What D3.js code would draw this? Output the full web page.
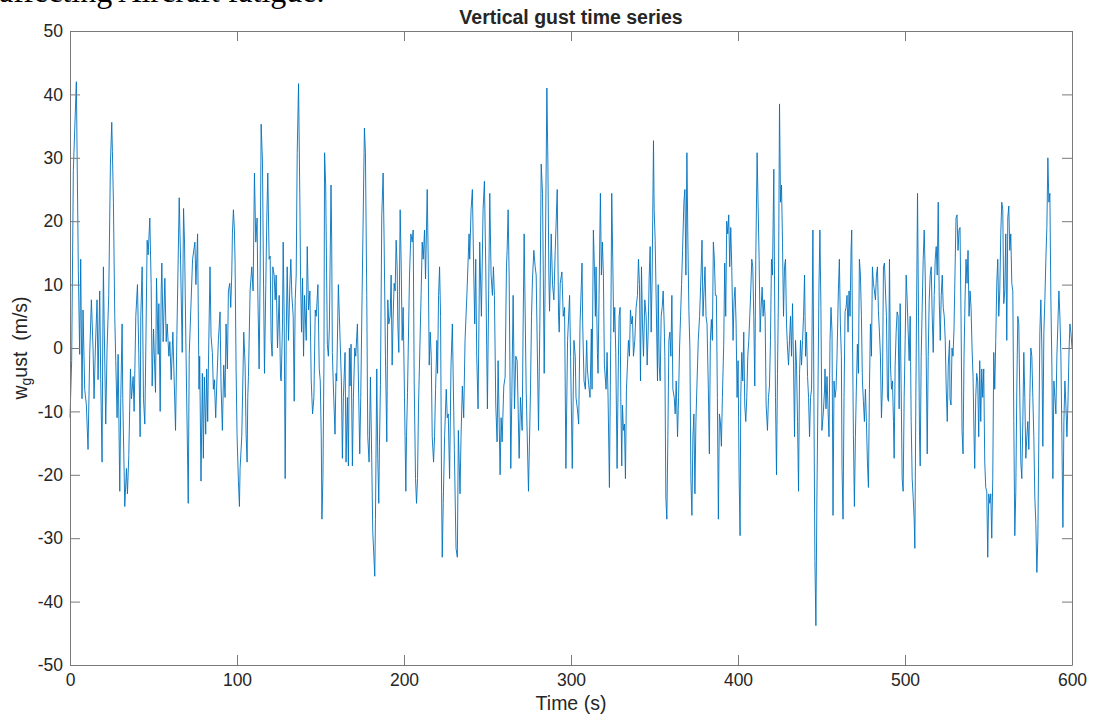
<!DOCTYPE html>
<html>
<head>
<meta charset="utf-8">
<script src="https://cdn.jsdelivr.net/npm/d3@7.8.5/dist/d3.min.js"></script>
<style>
  html, body { margin: 0; padding: 0; background: #fff; overflow: hidden; }
  svg { display: block; }
</style>
</head>
<body>
<div id="chart"></div>
<script>
// tick values
const xTicks = [0, 100, 200, 300, 400, 500, 600];
const yTicks = [-50, -40, -30, -20, -10, 0, 10, 20, 30, 40, 50];

// vertical gust samples: [time (s), w_gust (m/s)]
const gustSamples = [
  [0,-11],[1,-2],[2,28],[3.8,42],[5,12],[5.8,-1],[6.4,14],[7.2,-8],[7.8,6],[8.8,-6.5],[9.8,-9],[10.8,-16],
  [11.8,-1],[12.8,7.6],[13.8,0],[14.4,-8],[15.2,0],[16.2,7.6],[16.8,-5],[17.8,9],[18.4,-5],[19.2,-18],[19.6,0],
  [20,12.8],[20.4,5],[21.4,-12],[22.2,0],[23.2,8.3],[24.2,29],[25,35.6],[25.4,31],[26,23],[26.8,5],[27.4,-2],
  [28.2,-11],[28.8,-1],[29.8,-22.6],[30.4,-8],[31.2,3.8],[31.6,-8],[32.8,-25],[33.8,-19],[34.4,-23],[35.2,-17],
  [36.2,-3.3],[36.8,-8],[37.8,-4.5],[38.4,-10],[39.4,5],[40.4,10],[41.2,-1],[42,-14],[42.4,5],[43.2,12.8],
  [44,-8],[44.8,-12],[45.4,0],[46.2,17],[46.8,14.7],[47.8,20.5],[48.6,10],[49.2,-6],[50,3],[51.2,-7],[51.8,11],
  [52.8,-1],[53.2,7],[54,-10],[54.6,9],[55,13.4],[55.8,1],[56.8,11],[57.6,1],[58.2,3.8],[59.2,-1.3],[59.8,1],
  [60.6,-5],[61.6,2.5],[63.2,-13],[64,2],[65.4,23.7],[66.2,14],[67.2,-0.7],[68,22],[68.6,16.4],[69.4,0.6],
  [70.8,-24.5],[71.4,-1],[73.4,14],[74.8,16.7],[75.4,10],[76.4,18],
  [77.25,-6.5],[77.65,-1.3],[78.45,-21],[79.25,-4],[79.85,-17.4],[80.45,-4.6],[81.25,-13.6],[81.85,-3.3],
  [82.45,-11.6],[82.85,-3.3],[83.85,12.8],[84.45,1.9],[85.25,-0.7],[85.85,-6.5],[86.45,-5],[87.25,-11],
  [87.85,-6],[88.85,1.2],[89.85,5.7],[90.45,-6],[91.25,-13],[92.05,-2.7],[92.85,-7.8],[93.45,3.8],[94.25,-3.3],
  [94.85,9],[95.65,10.2],[96.25,6.4],[96.85,11.5],[97.25,18],[97.85,21.8],[98.45,18.6],[98.85,13.4],
  [99.45,-3.3],[100.05,-14],[100.85,-21],[101.45,-25],[101.85,-19],[102.85,-14],[103.45,-6],[104.05,2.5],
  [104.85,-2.7],[105.45,-13.6],[106.05,-18],[106.45,-7.8],[106.85,-4.5],[107.85,9],[108.85,12.8],[109.65,9],
  [110.45,27.6],[111.25,16.7],[112.05,20.5],[112.45,9],[113.25,-3.3],[113.85,11.5],[114.45,35.3],[115.25,29.5],
  [115.85,11.5],[116.45,-4],[117.25,10],[117.85,20.5],[118.45,27.6],[119.25,14],[119.85,14.5],[120.45,1.2],
  [121.05,-1.3],[121.45,12.8],[122.25,11.5],[122.85,7.6],[123.45,11.5],[124.25,0],[125.25,8.3],[126.05,-4.6],
  [126.45,-5.2],[127.25,3.8],[127.65,16.7],[128.25,5],[128.85,-20.6],[129.45,1.2],[130.05,12.8],[130.85,1.2],
  [131.65,10],[132.25,14],[132.85,8.3],[133.65,5],[134.25,-8.4],[134.85,7.6],[135.45,11.5],[136.05,30.8],
  [136.85,41.7],[137.65,23],[138.05,11.5],[138.65,2.5],[139.25,11],[139.85,-1.3],[140.45,8.3],[141.45,1.2],
  [142.05,16],[142.85,6],[143.65,9],[144.45,-5.2],[145.25,-10.4],[146.05,-7.8],[146.85,6],[147.45,5],
  [148.45,10],[149.25,-3.3],[149.85,-5.2],[150.45,-14],[150.85,-27],[151.45,-20.6],[152.05,-2.7],[152.45,30.8],
  [153.1,25.7],[154.1,0.6],[154.7,-1.3],[155.3,3],[156.3,25.7],[156.7,16.7],[157.1,-0.7],[157.7,-6],
  [158.7,-13.6],[159.3,-4],[159.7,-5.2],[160.7,10],[161.3,5],[161.9,0],[162.5,-5.2],[163.1,-17.4],[163.7,-7.8],
  [164.7,-0.7],[165.3,-18],[166.1,-7.8],[166.7,-18.6],[167.3,0],[167.7,-6],[168.3,0.6],[169.1,-18.6],
  [169.7,-7.8],[170.5,0],[171.1,-1.3],[172.1,3.8],[173.5,-16.7],[174.1,-7.8],[174.9,8.3],[176.3,34.7],
  [176.9,30.8],[177.7,8.3],[178.3,-14],[179.1,-18],[179.9,-4.6],[180.7,-18],[181.3,-29],[182.5,-36],
  [182.9,-27],[183.7,-3.3],[184.3,-17.4],[184.9,-24.5],[185.3,-15.5],[185.9,-5.8],[186.7,21],[187.5,27.6],
  [188.1,16.7],[188.9,-1.3],[189.7,-14.8],[190.3,7.6],[190.9,3.8],[191.7,5],[192.3,11.5],[192.9,-2.7],
  [193.5,5],[194.1,10.2],[194.7,9],[195.3,17],[195.9,12.8],[196.3,3.8],[196.9,-0.7],[197.7,21.8],[198.3,13.4],
  [198.9,1.2],[199.5,6.4],[200.3,-7.8],[201.1,-22.6],[201.5,-14],[202.1,-7],[203.3,11.5],[204.1,18],
  [204.9,16.7],[205.5,18.6],[206.1,-5.2],[206.9,-20.6],[207.5,-24.5],[208.1,-20.6],[208.7,-9],[210.3,9],
  [210.9,16.7],[211.5,14],[212.3,18.6],[212.9,10.9],[213.9,25],[214.5,14],[215.1,-2.7],[215.7,2.5],
  [216.3,-1.3],[216.9,-14],[217.7,-18],[218.3,-14],[218.9,-6.5],[219.7,1.2],[220.1,-4],[220.7,8.3],
  [221.3,12.8],[221.9,5],[222.5,-22.6],[222.9,-33],[223.5,-24.5],[224.3,-14],[225.3,-6.5],[225.9,-11],
  [226.5,-10.4],[227.3,-20.6],
  [228.15,-2.7],[228.95,3.8],[230.15,-16],[231.15,-31.6],[231.95,-33],[232.55,-13],[233.55,-23],[234.15,-14],
  [234.95,-6],[235.75,-11],[236.55,1.2],[237.75,9],[238.95,18],[239.35,14],[240.15,21.8],[240.95,25],
  [241.75,12],[242.35,3.8],[242.95,14],[243.55,-1.3],[244.35,-9.6],[245.35,16.7],[246.35,5],[247.35,21.8],
  [248.15,26.3],[248.95,12.8],[249.95,-9.6],[251.35,24.4],[252.15,11.5],[252.95,8.3],[253.55,12.8],
  [254.15,8.3],[254.95,-9],[255.75,-14.8],[256.35,-2],[257.55,-20],[258.15,-11],[258.75,-14.8],[259.75,-6],
  [260.55,-4.6],[261.35,12.8],[261.75,15.4],[262.35,21.8],[262.95,11.5],[263.95,-19],[264.55,-7.8],
  [265.35,8.3],[266.15,-9.6],[266.95,-1.3],[267.75,-2],[268.95,-17.4],[269.75,-7.8],[270.75,-13],[271.35,3.8],
  [271.95,18],[273.15,-6.5],[274.55,-22.6],[275.75,-6.5],[276.35,5],[276.95,11],[277.75,15.4],[278.55,12.8],
  [279.15,11.5],[280.55,-13],[281.35,3.8],[282.15,29],[282.95,24.4],[283.95,-4],[284.55,11.5],[285.55,41],
  [286.15,29.5],[286.75,11.5],[287.15,5.8],[288.15,18],[288.95,10],[289.75,7.6],[290.55,15.4],[291.75,25],
  [292.55,5],[292.95,2.5],[293.55,10.2],[294.55,12],[295.35,5],[296.15,6.4],[296.95,-19],[297.95,1.2],
  [299.15,8.3],[299.75,-1.3],[300.75,-19],[301.75,1.2],[302.55,-1.3],
  [303,-7.8],[303.8,-9.6],[304.6,-12],[305.4,3.8],[306.2,10],[306.6,13.4],[307,3.8],[307.8,-5.2],[308.6,-6.5],
  [309.4,1.2],[309.8,-3.3],[310.6,-5.8],[311.4,-7.8],[312.2,3],[312.6,-6.5],[313.4,18.6],[314,12.8],[314.6,5],
  [315,12.8],[315.8,-0.7],[316.2,-4],[316.8,8.3],[317.6,24.4],[318.2,11.5],[318.8,16.7],[319.4,11.5],
  [320,-2.7],[321,-6.5],[321.6,-0.7],[322.2,-7.8],[323,-22],[323.8,1.2],[324.4,24.4],[325,14],[325.6,2.5],
  [326.2,6.4],[326.8,-0.7],[327.6,-19],[328.4,-1.3],[328.8,5],[329.4,6.4],[329.8,-7.8],[330.4,-18.6],
  [330.8,-9],[331.4,-13],[332,-12],[332.6,-20.6],[333.2,-6.5],[333.8,-2.7],[334.4,1.2],[335,-1.3],[335.6,6],
  [336.2,3.8],[336.8,5],[337.4,-1.3],[338.2,1.2],[339,6.4],[339.8,8.3],[340.4,14],[341,10],[341.6,-5.2],
  [342.2,12.8],[342.8,3.8],[343.4,-1.3],[344.2,7.6],[345,5],[345.6,-2.7],[346.2,2.5],[346.8,11],[347.4,16],
  [348,2.5],[348.6,11.5],[349.4,32.7],[349.8,21.8],[350.4,17],[351,7.6],[351.8,-5.2],[352.2,10],[352.8,-2.7],
  [353.4,-5.2],[354,5],[354.6,6.4],[355.2,9],[355.8,3.8],[356.2,-1.3],[356.8,-23.6],[357.4,-27],[358,-14],
  [358.6,1.2],[359.2,2.5],[359.8,-1.3],[360.4,8.3],[361,-6.5],[361.8,-7.8],[362.4,-10.4],[363,-5.2],
  [363.8,-14],[364.4,-7.8],[365,0],[365.6,5],[366.2,10],[366.8,15.4],[367.6,23],[368.2,25],[368.8,11.5],
  [369.4,30.8],[370,16.7],[370.6,5.8],[371.2,0],[371.8,-20.6],[372.4,-26.4],[373,-14],[373.6,-10.4],
  [374.2,-23],[374.8,-11.6],[375.4,-6],[376.2,1.2],[377,5],
  [377.85,11.5],[378.45,17],[379.05,5],[379.65,9],[380.25,12.8],[380.85,5],[381.45,3.8],[382.25,-6.5],
  [382.85,-16.7],[383.45,1.2],[384.05,4.5],[384.65,1.2],[385.25,16.7],[385.85,14],[386.45,8.3],[387.05,8.3],
  [387.65,-7.8],[388.25,-27],[388.85,-10.4],[389.45,-11.6],[390.05,-15.5],[390.65,-7.8],[391.45,0.6],
  [392.05,13.4],[392.65,5],[393.25,20],[393.85,18],[394.45,21],[395.05,12.8],[395.65,19],[396.25,12.8],
  [397.05,1.2],[397.65,7.6],[398.25,9.6],[398.85,3.8],[399.45,-7.8],[400.05,-2],[400.65,-20],[401.25,-29.6],
  [401.65,-7.8],[402.25,-0.7],[402.85,-5.2],[403.45,2.5],[404.05,-9],[404.65,-11.6],[405.25,-7.8],
  [405.85,-1.3],[406.45,1.2],[407.05,5],[407.65,9],[408.25,14],[408.85,12.8],[409.45,5],[410.05,-6],
  [410.65,14],[411.45,30.8],[412.05,22.4],[412.65,14],[413.25,2.5],[413.85,6.4],[414.45,9.6],[415.05,5],
  [415.65,7.6],[416.25,5],[416.85,-9],[417.65,-13],[418.25,-7.8],[418.85,-6],[419.45,1.2],[420.05,14],
  [420.65,11.5],[421.45,28.2],[421.85,11.5],[422.45,-7.8],[423.05,-20],[423.65,-4],[424.25,9],[424.85,38.5],
  [425.45,23],[426.05,25.7],[426.65,16.7],[427.25,5],[427.85,12.8],[428.45,14],[429.05,3.8],[429.65,0],
  [430.25,-2.7],[430.85,1.2],[431.45,5],[432.05,-1.3],[432.65,7],[433.25,-2.7],[433.85,-14],[434.45,1.2],
  [435.05,-2.7],[435.65,-11.6],[436.25,-22.6],[436.85,-4],[437.45,1.2],[438.05,-2.7],[438.65,1.2],[439.25,5],
  [439.85,11.5],[440.45,-1.3],[441.05,2.5],[441.65,-4.5],[442.25,-7.8],[442.85,-14],[443.45,-7.8],
  [444.05,-6.5],[444.85,18.6],[445.45,-7.8],[446.05,-33.5],[446.65,-43.8],[447.25,-23.5],[447.85,-7.8],
  [448.45,9],[449.05,18.6],[449.65,6.4],[450.25,-13],[451.05,-10.4],[451.85,-6.5],
  [452.1,-3.3],[452.7,-9.6],[453.3,-4.5],[453.9,-9.6],[454.5,-14],[455.1,1.2],[455.7,6.4],[456.3,2.5],
  [456.9,-26.4],[457.5,-5.2],[458.1,-7.8],[458.7,-6.5],[459.3,-1.3],[460.1,9],[460.7,14],[461.3,3.8],
  [461.9,-1.3],[462.3,-19],[462.9,-27],[463.5,-7.8],[464.1,5.7],[464.7,6.4],[465.3,8.3],[465.9,2.5],
  [466.5,9],[467.1,5],[467.7,15.4],[468.1,18.6],[468.5,3.8],[469.1,-13.6],[469.7,-25],[470.3,-14],
  [470.9,-6],[471.5,0.6],[472.1,-4],[472.7,14],[473.3,11.5],[473.9,5],[474.5,-5.2],[475.1,-8.4],[475.7,-11.6],
  [476.3,-6.5],[476.9,-11.6],[477.5,-18],[478.1,-22],[478.7,-6.5],[479.3,3.8],[479.9,-1.3],[480.5,12.8],
  [481.1,10.2],[481.7,9],[482.3,7.6],[482.9,11.5],[483.5,12.8],[484.1,5.7],[484.7,2.5],[485.3,-1.3],
  [485.9,-11],[486.5,-6],[487.1,12.8],[487.7,13.4],[488.3,9],[488.9,5],[489.5,-7.8],[490.1,-8.4],[490.7,14],
  [491.3,-2.7],[491.9,-6.5],[492.5,-5.2],[493.1,-11.6],[493.5,-17.4],[494.1,-2.7],[494.7,2.5],[495.3,5.7],
  [495.9,5],[496.5,-9.6],[497.1,7],[497.7,-6.5],[498.3,-20.6],[498.9,-22.6],[499.5,-7.8],[500.1,1.2],
  [500.7,11.5],[501.3,7.6],[501.9,2.5],[502.5,-2],[503.1,5],[503.7,-11.6],[504.3,-20.6],[504.9,-23.6],
  [505.5,-27],[505.9,-31.6],[506.5,-7.8],[507.1,11.5],[507.5,24.4],[508.1,5],[508.7,-14],[509.1,-18.6],
  [509.7,-1.3],[510.3,6.4],[510.9,14],[511.5,18.6],[512.1,11.5],[512.7,-1.3],[513.3,-16.7],[513.9,-1.3],
  [514.5,7.6],[515.1,11.5],[515.7,12.8],[516.3,5],[516.9,-0.7],[517.5,8.3],[518.1,14],[518.7,16],
  [519.3,11.5],[519.9,23],[520.5,7.6],[521.1,1.2],[521.7,8.3],[522.3,11.5],[522.9,6.4],[523.5,5],
  [524.1,1.2],[524.7,-6.5],[525.3,-11.6],[525.9,-2.7],[526.7,1.2],
  [526.95,-8],[527.55,-9],[528.15,0],[528.75,-1.3],[529.35,3],[529.95,12],[530.55,20.5],[531.15,21],
  [531.75,15.4],[532.35,18.6],[532.95,19],[533.55,5],[534.15,-13],[534.75,-16.7],[535.35,-1.3],[535.95,7.6],
  [536.55,14],[537.15,10.2],[537.75,15.4],[538.35,5],[538.95,9],[539.55,6.4],[540.15,0],[540.75,-4.5],
  [541.35,-14],[541.75,-19],[542.35,-7.8],[542.95,-4],[543.55,-5.2],[544.15,-14],[544.75,-2],[545.35,-11.6],
  [545.95,-3.3],[546.55,-7.8],[547.15,-3.3],[547.75,-18],[548.35,-22],[548.95,-22.6],[549.55,-33],
  [550.15,-23],[550.75,-24.5],[551.35,-23],[551.95,-30],[552.55,-20.6],[553.15,-0.7],[553.75,-6.5],
  [554.35,1.2],[554.95,10.2],[555.55,14],[556.15,5],[556.75,9],[557.35,18],[557.95,23],[558.55,21.8],
  [559.15,7],[559.75,9],[560.35,18],[560.95,1.2],[561.55,20.5],[562.15,22.4],[562.75,15.4],[563.35,18],
  [563.95,10.2],[564.55,9],[565.15,-11.6],[565.75,-29.6],[566.35,-22.6],[566.95,-6.5],[567.55,5],
  [568.15,3.8],[568.75,-7.8],[569.35,-18],[569.95,-20.6],[570.55,-11.6],[571.15,-0.7],[571.75,-7.8],
  [572.35,-17.4],[572.95,-14],[573.55,-11.6],[574.15,-16],[574.75,-7.8],[575.35,0],[575.95,-1.3],
  [576.55,-7.8],[577.15,-14],[577.75,-23.6],[578.35,-27.7],[578.95,-35.4],[579.55,-30],[580.15,-14],
  [580.75,2.5],[581.35,7.6],[581.95,0],[582.55,-15.5],[583.15,2.5],[583.75,7.6],[584.35,14],[584.95,19],
  [585.55,30],[586.15,23],[586.75,24.4],[587.35,7.6],[587.95,-2.7],[588.55,-20.6],[589.15,-5.2],
  [589.75,-7.8],[590.35,-10.4],[590.95,-1.3],[591.55,3.8],[592.15,9],[592.75,5],[593.35,-1.3],[593.95,-14],
  [594.55,-28.3],[595.15,-11.6],[595.75,-5.2],[596.35,-9],[596.95,-14],[597.55,-9],[598.15,-1.3],
  [598.75,3.8],[599.35,2.5],[600,0]
];

const width = 1098;
const height = 714;
const margin = { top: 31, right: 26, bottom: 49, left: 70 };
const axisColor = "#7a7a7a";
const textColor = "#262626";
const font = "'Liberation Sans', Arial, Helvetica, sans-serif";

const svg = d3
  .select("#chart")
  .append("svg")
  .attr("width", width)
  .attr("height", height);

// leftover caption from the page above the figure, cut off at the top
svg
  .append("text")
  .attr("x", -1)
  .attr("y", 1.5)
  .style("font-family", "'Liberation Serif', 'Times New Roman', serif")
  .style("font-size", "32px")
  .style("fill", "#000")
  .text("affecting Aircraft fatigue.");

const x = d3
  .scaleLinear()
  .domain([0, 600])
  .range([margin.left, width - margin.right]);

const y = d3
  .scaleLinear()
  .domain([-50, 50])
  .range([height - margin.bottom, margin.top]);

// gust trace
const line = d3
  .line()
  .x((d) => x(d[0]))
  .y((d) => y(d[1]));

svg
  .append("path")
  .datum(gustSamples)
  .attr("fill", "none")
  .attr("stroke", "#0072BD")
  .attr("stroke-width", 0.9)
  .attr("stroke-linejoin", "round")
  .attr("d", line);

// plain hyphen minus, like the original labels
const plain = (d) => String(d);

// axes: ticks pointing inward on all four sides, box closed
svg
  .append("g")
  .attr("transform", `translate(0, ${height - margin.bottom})`)
  .call(
    d3.axisBottom(x).tickValues(xTicks).tickFormat(plain)
      .tickSizeInner(-10).tickSizeOuter(0).tickPadding(9),
  );

svg
  .append("g")
  .attr("transform", `translate(${margin.left}, 0)`)
  .call(
    d3.axisLeft(y).tickValues(yTicks).tickFormat(plain)
      .tickSizeInner(-10).tickSizeOuter(0).tickPadding(7),
  );

svg
  .append("g")
  .attr("transform", `translate(0, ${margin.top})`)
  .call(
    d3.axisTop(x).tickValues(xTicks).tickSizeInner(-10).tickSizeOuter(0).tickFormat(""),
  );

svg
  .append("g")
  .attr("transform", `translate(${width - margin.right}, 0)`)
  .call(
    d3.axisRight(y).tickValues(yTicks).tickSizeInner(-10).tickSizeOuter(0).tickFormat(""),
  );

svg.selectAll(".domain").attr("stroke", axisColor).attr("stroke-width", 1);
svg.selectAll(".tick line").attr("stroke", axisColor).attr("stroke-width", 1);
svg
  .selectAll(".tick text")
  .style("font-family", font)
  .style("font-size", "17.5px")
  .style("fill", textColor);

// title and axis labels
svg
  .append("text")
  .attr("x", (margin.left + width - margin.right) / 2)
  .attr("y", 24)
  .attr("text-anchor", "middle")
  .style("font-family", font)
  .style("font-size", "19.5px")
  .style("font-weight", "bold")
  .style("fill", textColor)
  .text("Vertical gust time series");

svg
  .append("text")
  .attr("x", (margin.left + width - margin.right) / 2)
  .attr("y", 710)
  .attr("text-anchor", "middle")
  .style("font-family", font)
  .style("font-size", "19.5px")
  .style("fill", textColor)
  .text("Time (s)");

const yLabel = svg
  .append("text")
  .attr("transform", `translate(27, ${y(0)}) rotate(-90)`)
  .attr("text-anchor", "middle")
  .style("font-family", font)
  .style("font-size", "19.5px")
  .style("fill", textColor)
  .attr("xml:space", "preserve");

yLabel.append("tspan").text("w");
yLabel.append("tspan").attr("dy", 4).style("font-size", "14px").text("g");
yLabel.append("tspan").attr("dy", -4).text("ust  (m/s)");
</script>
</body>
</html>
